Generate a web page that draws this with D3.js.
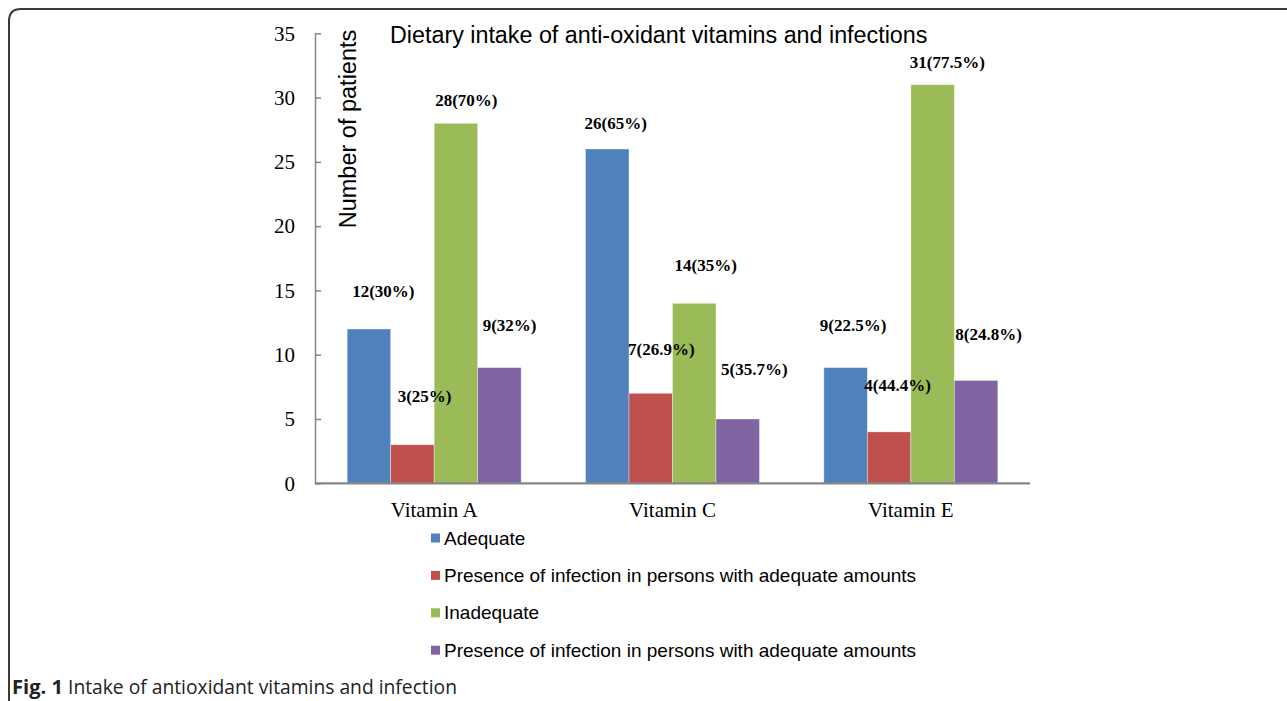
<!DOCTYPE html>
<html>
<head>
<meta charset="utf-8">
<script src="https://cdn.jsdelivr.net/npm/d3@7"></script>
<style>
    body { margin: 0; background: #fff; }
    svg { display: block; }
</style>
</head>
<body>
<svg id="chart"></svg>
<script>
var categories = ["Vitamin A", "Vitamin C", "Vitamin E"];

var seriesNames = [
    "Adequate",
    "Presence of infection in persons with adequate amounts",
    "Inadequate",
    "Presence of infection in persons with adequate amounts"
];

var adequate = [12, 26, 9];
var adequatePct = ["30%", "65%", "22.5%"];
var infectionAdequate = [3, 7, 4];
var infectionAdequatePct = ["25%", "26.9%", "44.4%"];
var inadequate = [28, 14, 31];
var inadequatePct = ["70%", "35%", "77.5%"];
var infectionInadequate = [9, 5, 8];
var infectionInadequatePct = ["32%", "35.7%", "24.8%"];

var yTicks = [0, 5, 10, 15, 20, 25, 30, 35];

var colors = ["#4f81bd", "#c0504d", "#9bbb59", "#8064a2"];

var width = 1287, height = 701;

var values = [adequate, infectionAdequate, inadequate, infectionInadequate];
var pcts = [adequatePct, infectionAdequatePct, inadequatePct, infectionInadequatePct];

// flat rows, one per bar
var rows = [];
categories.forEach(function(c, ci) {
    values.forEach(function(v, si) {
        rows.push({cat: c, ci: ci, si: si, value: v[ci], label: v[ci] + "(" + pcts[si][ci] + ")"});
    });
});

// hand placed labels in the original, offset from each bar's top left corner
var labelNudge = [
    [[5, -38], [7, -49], [1, -23], [5, -43]],
    [[-1, -26], [-1, -44], [2, -38], [5, -50]],
    [[-4, -43], [-3, -47], [-1, -23], [1, -46]]
];

var margin = {top: 33.3, right: 257, bottom: 217.7, left: 315};

var svg = d3.select("#chart")
    .attr("width", width)
    .attr("height", height);

// frame of the figure
svg.append("path")
    .attr("d", "M9,701 L9,21 Q9,9 21,9 L1287,9")
    .attr("fill", "none")
    .attr("stroke", "#3a3a3a")
    .attr("stroke-width", 2);

var y = d3.scaleLinear()
    .domain([0, 35])
    .range([height - margin.bottom, margin.top]);

var x0 = d3.scaleBand()
    .domain(categories)
    .range([margin.left, width - margin.right])
    .paddingInner(0.27)
    .paddingOuter(0.135);

var x1 = d3.scaleBand()
    .domain(d3.range(seriesNames.length))
    .range([0, x0.bandwidth()]);

// y axis
var yAxis = g => g
    .attr("transform", `translate(${margin.left},0)`)
    .call(d3.axisLeft(y).tickValues(yTicks).tickSizeInner(-6).tickSizeOuter(0).tickPadding(20))
    .call(g => g.selectAll("line, path").attr("stroke", "#868686").attr("stroke-width", 1.5))
    .call(g => g.selectAll("text")
        .attr("fill", "#000")
        .style("font-family", "'Liberation Serif', serif")
        .style("font-size", "21px"));

svg.append("g").call(yAxis);

// bars
svg.append("g")
    .selectAll("rect")
    .data(rows)
    .enter()
    .append("rect")
        .attr("x", d => x0(d.cat) + x1(d.si))
        .attr("y", d => y(d.value))
        .attr("width", x1.bandwidth())
        .attr("height", d => y(0) - y(d.value))
        .attr("fill", d => colors[d.si])
        .attr("stroke", "#ffffff")
        .attr("stroke-opacity", 0.45)
        .attr("stroke-width", 0.8);

// x axis
var xAxis = g => g
    .attr("transform", `translate(0,${y(0)})`)
    .call(d3.axisBottom(x0).tickSize(0).tickPadding(19))
    .call(g => g.select(".domain")
        .attr("d", `M${margin.left},0H${width - margin.right}`)
        .attr("stroke", "#868686")
        .attr("stroke-width", 2.2))
    .call(g => g.selectAll("text")
        .attr("fill", "#000")
        .style("font-family", "'Liberation Serif', serif")
        .style("font-size", "21px"));

svg.append("g").call(xAxis);

// value labels
svg.append("g")
    .selectAll("text")
    .data(rows)
    .enter()
    .append("text")
        .attr("x", d => x0(d.cat) + x1(d.si) + labelNudge[d.ci][d.si][0])
        .attr("y", d => y(d.value) + labelNudge[d.ci][d.si][1])
        .attr("dy", "0.35em")
        .style("font-family", "'Liberation Serif', serif")
        .style("font-size", "17px")
        .style("font-weight", "bold")
        .attr("fill", "#000")
        .text(d => d.label);

// title
svg.append("text")
    .attr("x", 390)
    .attr("y", 43)
    .style("font-family", "'Liberation Sans', Arial, sans-serif")
    .style("font-size", "23.3px")
    .attr("fill", "#000")
    .text("Dietary intake of anti-oxidant vitamins and infections");

// y axis title
svg.append("text")
    .attr("transform", "translate(356,129) rotate(-90)")
    .attr("text-anchor", "middle")
    .style("font-family", "'Liberation Sans', Arial, sans-serif")
    .style("font-size", "23.5px")
    .attr("fill", "#000")
    .text("Number of patients");

// legend
var legend = svg.append("g")
    .selectAll("g")
    .data(seriesNames)
    .enter()
    .append("g")
        .attr("transform", (d, i) => `translate(431,${538 + i * 37.4})`);

legend.append("rect")
    .attr("x", 0)
    .attr("y", -4.5)
    .attr("width", 9)
    .attr("height", 9)
    .attr("fill", (d, i) => colors[i]);

legend.append("text")
    .attr("x", 13)
    .attr("dy", "0.35em")
    .style("font-family", "'Liberation Sans', Arial, sans-serif")
    .style("font-size", "19px")
    .attr("fill", "#000")
    .text(d => d);

// caption
var caption = svg.append("text")
    .attr("x", 12)
    .attr("y", 694)
    .style("font-family", "'Open Sans', sans-serif")
    .style("font-size", "20px")
    .attr("fill", "#222");

caption.append("tspan")
    .style("font-weight", "bold")
    .attr("textLength", 51)
    .attr("lengthAdjust", "spacingAndGlyphs")
    .text("Fig. 1");

caption.append("tspan")
    .attr("x", 68)
    .attr("textLength", 389)
    .attr("lengthAdjust", "spacingAndGlyphs")
    .text("Intake of antioxidant vitamins and infection");
</script>
</body>
</html>
